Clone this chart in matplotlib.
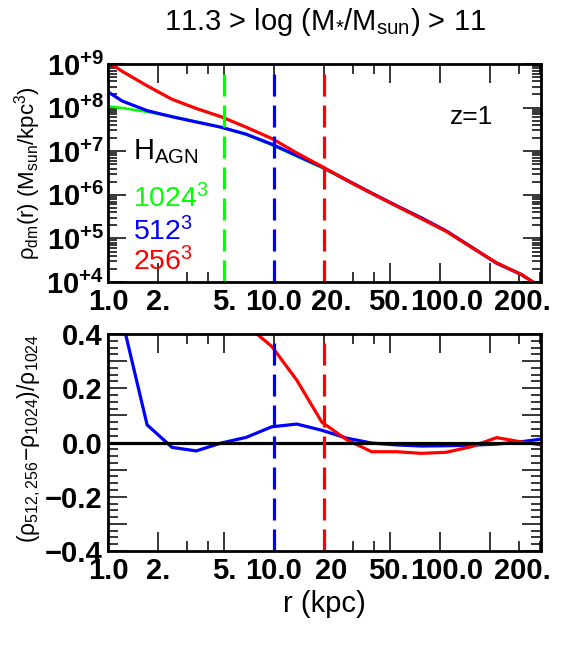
import matplotlib

matplotlib.use("Agg")
import matplotlib.pyplot as plt
import numpy as np
from matplotlib.ticker import FixedFormatter, FixedLocator, NullFormatter

plt.rcParams["font.family"] = ["Liberation Sans", "DejaVu Sans"]
plt.rcParams["mathtext.fontset"] = "custom"
plt.rcParams["mathtext.rm"] = "Liberation Sans"
plt.rcParams["mathtext.it"] = "Liberation Sans:italic"
plt.rcParams["mathtext.bf"] = "Liberation Sans:bold"

# density profiles (log10 rho, Msun/kpc^3)
r_prof = [1.0, 1.22, 1.72, 2.43, 3.4, 4.8, 6.8, 9.7, 13.7, 19.4, 27.4, 38.7,
          54.7, 77.3, 109, 155, 219, 309, 437]
logrho_1024 = [8.03, 7.99, 7.90, 7.80, 7.68, 7.55, 7.38, 7.14, 6.88, 6.62, 6.33,
               6.04, 5.75, 5.47, 5.17, 4.80, 4.43, 4.17, 3.80]
logrho_512 = [8.36, 8.15, 7.93, 7.79, 7.67, 7.55, 7.39, 7.16, 6.90, 6.64, 6.34,
              6.04, 5.75, 5.47, 5.17, 4.80, 4.43, 4.17, 3.80]
logrho_256 = [9.05, 8.83, 8.50, 8.19, 7.98, 7.79, 7.55, 7.29, 6.96, 6.65, 6.33,
              6.03, 5.74, 5.45, 5.16, 4.79, 4.44, 4.17, 3.80]

# relative difference to the 1024^3 run, bottom panel
r_ratio = [1.22, 1.72, 2.43, 3.4, 4.8, 6.8, 9.7, 13.7, 19.4, 27.4, 38.7, 54.7,
           77.3, 109, 155, 219, 309, 437]
ratio_512 = [0.45, 0.065, -0.018, -0.031, -0.002, 0.019, 0.058, 0.068, 0.045,
             0.016, -0.002, -0.009, -0.013, -0.012, -0.010, -0.006, 0.003, 0.015]
ratio_256 = [8.0, 3.6, 1.6, 1.0, 0.75, 0.433, 0.354, 0.23, 0.075, 0.01, -0.034,
             -0.034, -0.040, -0.036, -0.015, 0.018, 0.002, -0.012]

# resolution limits (kpc)
r_lim = {"1024": 5.0, "512": 10.0, "256": 20.0}
colors = {"1024": "#00ff00", "512": "#0000ff", "256": "#ff0000"}

x_major = [1, 2, 5, 10, 20, 50, 100, 200]
x_labels_top = ["1.0", "2.", "5.", "10.0", "20.", "50.", "100.0", "200."]
x_labels_bot = ["1.0", "2.", "5.", "10.0", "20", "50.", "100.0", "200."]
x_minor = [3, 4, 30, 40, 300, 400]
# horizontal nudge (points) of each x label, as the original plot has them
x_label_shift = [0, 0, 0, 0, 5, -1.5, 4.5, 23]

W, H = 563, 646
fig = plt.figure(figsize=(W / 100, H / 100), dpi=100)


def frac(x0, y0, x1, y1):
    return [x0 / W, 1 - y1 / H, (x1 - x0) / W, (y1 - y0) / H]


ax1 = fig.add_axes(frac(108, 64, 541, 282))
ax2 = fig.add_axes(frac(108, 334, 541, 551))

dash = (0, (6.9, 2.8))
lw = 2.3
tick_fs = 21


def style_xaxis(ax, labels):
    ax.set_xscale("log")
    ax.set_xlim(1.0, 405)
    ax.xaxis.set_major_locator(FixedLocator(x_major))
    ax.xaxis.set_major_formatter(NullFormatter())
    ax.xaxis.set_minor_locator(FixedLocator(x_minor))
    ax.xaxis.set_minor_formatter(NullFormatter())
    ax.tick_params(axis="x", which="major", length=14, width=1.1, direction="in",
                   top=True)
    ax.tick_params(axis="x", which="minor", length=7, width=1.1, direction="in",
                   top=True)
    for xv, lab, dx in zip(x_major, labels, x_label_shift):
        ax.annotate(lab, xy=(xv, 0), xycoords=("data", "axes fraction"),
                    xytext=(dx, -4), textcoords="offset points", ha="center",
                    va="top", fontsize=tick_fs, fontweight="bold")
    for s in ax.spines.values():
        s.set_linewidth(2.0)


# ---- top panel: density profiles
ax1.plot(r_prof, 10 ** np.array(logrho_1024), color=colors["1024"], lw=1.8)
ax1.plot(r_prof, 10 ** np.array(logrho_512), color=colors["512"], lw=lw)
ax1.plot(r_prof, 10 ** np.array(logrho_256), color=colors["256"], lw=lw)
for k in ["1024", "512", "256"]:
    ax1.axvline(r_lim[k], color=colors[k], lw=lw, linestyle=dash)
ax1.set_yscale("log")
ax1.set_ylim(1e4, 1e9)
style_xaxis(ax1, x_labels_top)
y_major = [1e4, 1e5, 1e6, 1e7, 1e8, 1e9]
ax1.yaxis.set_major_locator(FixedLocator(y_major))
ax1.yaxis.set_major_formatter(FixedFormatter(
    [r"$\mathbf{10^{+%d}}$" % int(np.log10(v)) for v in y_major]))
ax1.yaxis.set_minor_locator(FixedLocator(
    [m * 10.0 ** e for e in range(4, 9) for m in range(2, 10)]))
ax1.yaxis.set_minor_formatter(NullFormatter())
ax1.tick_params(axis="y", which="major", length=13, width=1.1, direction="in",
                right=True, pad=3, labelsize=tick_fs)
ax1.tick_params(axis="y", which="minor", length=6.5, width=1.1, direction="in",
                right=True)
ax1.set_ylabel("ρ$_{\\rm dm}$(r) (M$_{\\rm sun}$/kpc$^3$)", fontsize=16)
ax1.yaxis.set_label_coords(-0.15, 0.5)

ax1.text(0.84, 0.757, "z=1", transform=ax1.transAxes, fontsize=19,
         ha="center", va="center")
ax1.text(0.058, 0.564, "H$_{\\rm AGN}$", transform=ax1.transAxes, fontsize=21,
         ha="left", va="baseline")
label_y = {"1024": 0.344, "512": 0.193, "256": 0.055}
for k in ["1024", "512", "256"]:
    ax1.text(0.058, label_y[k], k + "$^3$", transform=ax1.transAxes,
             fontsize=20.5, color=colors[k], ha="left", va="baseline")

# ---- bottom panel: relative differences
ax2.plot(r_ratio, ratio_512, color=colors["512"], lw=lw)
ax2.plot(r_ratio, ratio_256, color=colors["256"], lw=lw)
ax2.axhline(0.0, color="black", lw=2.3)
for k in ["512", "256"]:
    ax2.axvline(r_lim[k], color=colors[k], lw=lw, linestyle=dash)
ax2.set_ylim(-0.4, 0.4)
style_xaxis(ax2, x_labels_bot)
y2_major = [-0.4, -0.3, -0.2, -0.1, 0.0, 0.1, 0.2, 0.3, 0.4]
y2_labels = ["\u22120.4", "", "\u22120.2", "", "0.0", "", "0.2", "", "0.4"]
ax2.yaxis.set_major_locator(FixedLocator(y2_major))
ax2.yaxis.set_major_formatter(FixedFormatter(y2_labels))
ax2.yaxis.set_minor_locator(FixedLocator(np.arange(-0.4, 0.401, 0.025)))
ax2.yaxis.set_minor_formatter(NullFormatter())
ax2.tick_params(axis="y", which="major", length=14, width=1.1, direction="in",
                right=True, pad=4, labelsize=tick_fs)
ax2.tick_params(axis="y", which="minor", length=7, width=1.1, direction="in",
                right=True)
for t in ax2.get_yticklabels():
    t.set_fontweight("bold")
ax2.set_ylabel("(ρ$_{\\rm 512,256}$\u2212ρ$_{\\rm 1024}$)/ρ$_{\\rm 1024}$",
               fontsize=16.5)
ax2.yaxis.set_label_coords(-0.15, 0.52)

fig.text(324.5 / W, 1 - 22 / H, "11.3 > log (M$_{*}$/M$_{\\rm sun}$) > 11",
         fontsize=21, ha="center", va="center")
fig.text(324.5 / W, 1 - 604 / H, "r (kpc)", fontsize=21, ha="center",
         va="center")

fig.savefig("out.png", dpi=100)
